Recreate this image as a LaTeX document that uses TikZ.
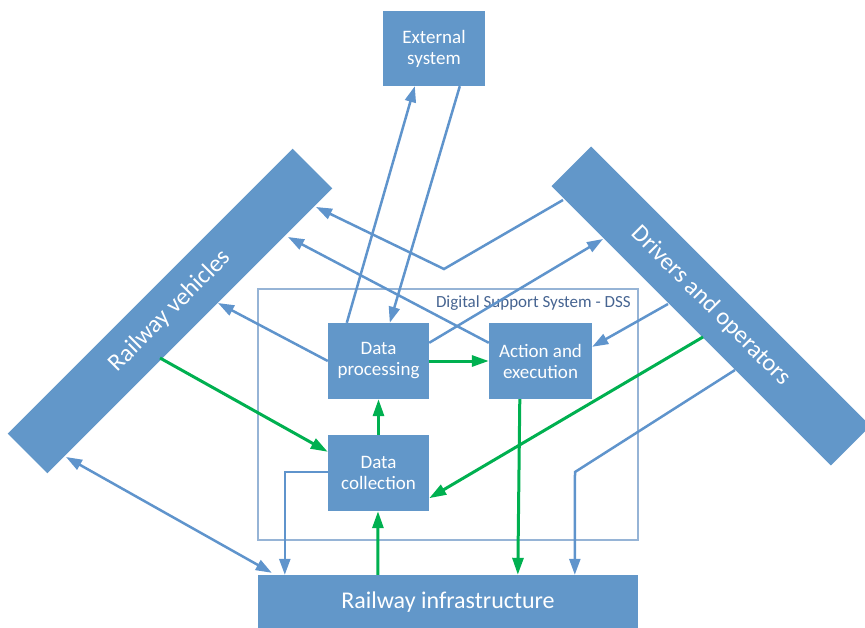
\documentclass[tikz,border=0pt]{standalone}
\usepackage{fontspec}
\setmainfont{Carlito}
\usetikzlibrary{arrows.meta,calc}
\definecolor{boxblue}{RGB}{98,151,201}
\definecolor{lineblue}{RGB}{95,148,204}
\definecolor{flowgreen}{RGB}{0,176,80}
\definecolor{frameblue}{RGB}{150,180,214}
\definecolor{labelblue}{RGB}{70,100,145}
\tikzset{
  block/.style={fill=boxblue, draw=none, text=white, inner sep=0pt, align=center, font=\fontsize{19}{21}\selectfont},
  bar/.style={fill=boxblue, draw=none, text=white, inner sep=0pt, minimum height=56pt, font=\fontsize{24.5}{28}\selectfont},
  info/.style={draw=lineblue, line width=2.5pt, -{Triangle[length=16pt,width=11pt]}},
  infoboth/.style={draw=lineblue, line width=2.5pt, {Triangle[length=16pt,width=11pt]}-{Triangle[length=16pt,width=11pt]}},
  flow/.style={draw=flowgreen, line width=3pt, -{Triangle[length=17pt,width=11pt]}},
}
\begin{document}
\begin{tikzpicture}[x=1pt,y=-1pt]
\useasboundingbox (0,0) rectangle (865,627);

% DSS frame
\node[draw=frameblue, line width=1.5pt, minimum width=380pt, minimum height=251pt, inner sep=0pt] (dss) at (448,414.5) {};
\node[text=labelblue, anchor=east, inner sep=0pt, font=\fontsize{17}{19}\selectfont] (dsslabel) at (631,303) {Digital Support System - DSS};

% main blocks
\node[block, minimum width=102pt, minimum height=75pt] (ext) at (434,48.5) {External\\system};
\node[block, minimum width=101pt, minimum height=76pt] (dp) at (378.5,361) {Data\\processing};
\node[block, minimum width=103pt, minimum height=76pt] (ae) at (540.5,361) {Action and\\execution};
\node[block, minimum width=101pt, minimum height=76pt] (dc) at (378.5,473) {Data\\collection};
\node[block, minimum width=380pt, minimum height=54pt, font=\fontsize{24}{28}\selectfont] (ri) at (448,602) {Railway infrastructure};

% slanted actor bars
\node[bar, rotate=45, minimum width=403pt] (rv) at (170,311) {Railway vehicles};
\node[bar, rotate=-45, minimum width=395pt] (drv) at (711,306) {Drivers and operators};

% attachment points along the bar edges
\coordinate (rv1) at (316,207);
\coordinate (rv2) at (288,237);
\coordinate (rv3) at (218,303);
\coordinate (rv4) at (160,358);
\coordinate (rv5) at (66,457);
\coordinate (dr1) at (563,200);
\coordinate (dr2) at (603,239);
\coordinate (dr3) at (668,304);
\coordinate (dr4) at (703,337);
\coordinate (dr5) at (735,370);
\coordinate (bend1) at (444,269);
\coordinate (bend2) at (575,472);

% exchange with the external system
\draw[info] ([xshift=19pt]dp.north west) -- ([xshift=32pt]ext.south west);
\draw[info] ([xshift=77pt]ext.south west) -- ([xshift=62pt]dp.north west);

% information paths
\draw[info] ([yshift=-20pt]dp.north east) -- (dr2);
\draw[info] (dr3) -- ([yshift=-24pt]ae.north east);
\draw[info] ([yshift=-20pt]ae.north west) -- (rv2);
\draw[info] (dr1) -- (bend1) -- (rv1);
\draw[info] (dp.west) -- (rv3);
\draw[info] ([yshift=-37pt]dc.north west) -| ([xshift=27pt]ri.north west);
\draw[info] (dr5) -- (bend2) -- ([xshift=317pt]ri.north west);
\draw[infoboth] (rv5) -- ([xshift=14pt,yshift=2pt]ri.north west);

% data flow
\draw[flow] (dp.east) -- (ae.west);
\draw[flow] (dc.north) -- (dp.south);
\draw[flow] (rv4) -- ([yshift=-17pt]dc.north west);
\draw[flow] (dr4) -- ([yshift=13pt]dc.south east);
\draw[flow] ([xshift=31pt]ae.south west) -- ([xshift=260pt]ri.north west);
\draw[flow] ([xshift=120pt]ri.north west) -- ([xshift=-0.5pt]dc.south);
\end{tikzpicture}
\end{document}
